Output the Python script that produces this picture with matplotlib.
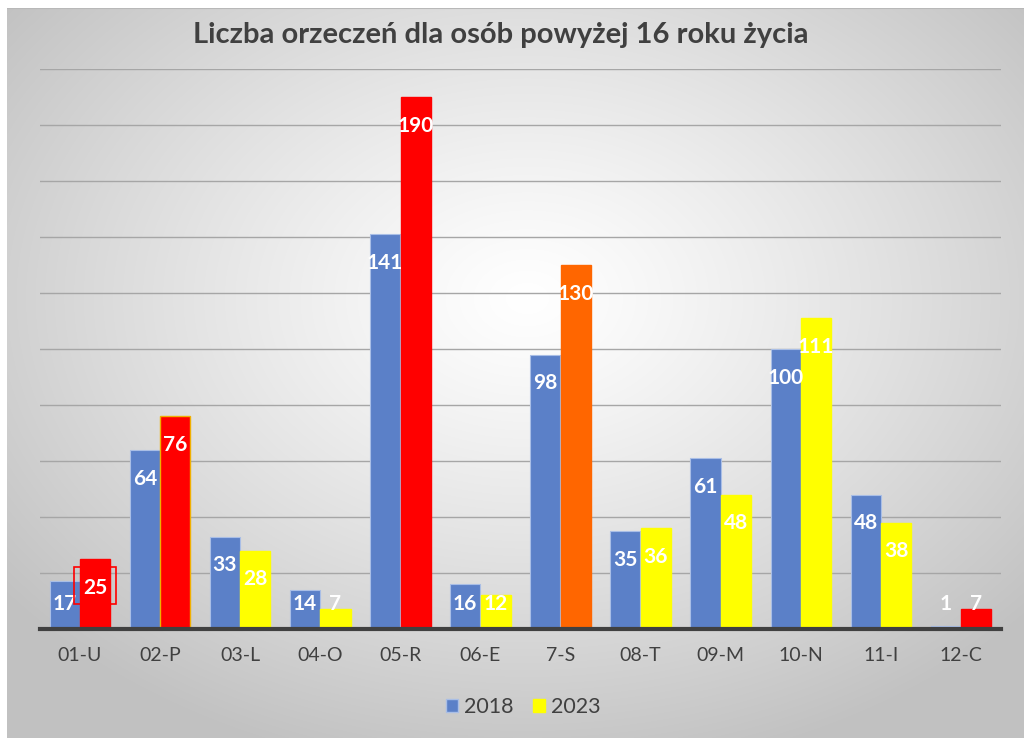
import numpy as np
import matplotlib
matplotlib.use("Agg")
import matplotlib.pyplot as plt
from matplotlib.patches import Rectangle, Patch

categories = ['01-U', '02-P', '03-L', '04-O', '05-R', '06-E', '7-S', '08-T', '09-M', '10-N', '11-I', '12-C']
v2018 = [17, 64, 33, 14, 141, 16, 98, 35, 61, 100, 48, 1]
v2023 = [25, 76, 28, 7, 190, 12, 130, 36, 48, 111, 38, 7]
colors2023 = ['#FF0000', '#FF0000', '#FFFF00', '#FFFF00', '#FF0000', '#FFFF00',
              '#FF6600', '#FFFF00', '#FFFF00', '#FFFF00', '#FFFF00', '#FF0000']
edges2023 = ['#FF0000', '#F0B000', '#FFFF00', '#FFFF00', '#FF0000', '#FFFF00',
             '#FF6600', '#FFFF00', '#FFFF00', '#FFFF00', '#FFFF00', '#FF0000']
blue = '#5B80C8'
yellow = '#FFFF00'
series_names = ['2018', '2023']
title = 'Liczba orzeczeń dla osób powyżej 16 roku życia'

W, H = 1024, 738
fig = plt.figure(figsize=(W / 100, H / 100), dpi=100)
fig.patch.set_facecolor('white')

# background radial gradient
bg = fig.add_axes([7 / W, 0, 1 - 7 / W, (H - 8) / H])
bg.set_axis_off()
yy, xx = np.mgrid[0:730, 0:1017]
cx, cy = 520, 290
r = np.sqrt(((xx - cx) / 660.0) ** 2 + ((yy - cy) / 480.0) ** 2)
r = np.clip(r, 0, 1)
val = 1.0 - (1.0 - 0.76) * r ** 1.2
img = np.dstack([val, val, val])
bg.imshow(img, aspect='auto', extent=[0, 1, 0, 1], origin='upper')
bg.set_xlim(0, 1)
bg.set_ylim(0, 1)
bg.plot([0, 1], [1, 1], color='#B8B8B8', lw=1.5)

left, right, bottom, top = 40, 1001, 629, 69
ax = fig.add_axes([left / W, (H - bottom) / H, (right - left) / W, (bottom - top) / H])
ax.set_facecolor('none')
x = np.arange(len(categories))
bw = 0.375
off = 0.19
ax.bar(x - off, v2018, bw, color=blue, edgecolor='#A9BEE6', linewidth=0.8, zorder=3)
ax.bar(x + off, v2023, bw, color=colors2023, edgecolor=edges2023, linewidth=1.0, zorder=3)

ax.set_ylim(0, 200)
ax.set_xlim(-0.5, len(categories) - 0.5)
ax.set_yticks(np.arange(0, 201, 20))
ax.yaxis.grid(True, color='#A6A6A6', lw=1.0, zorder=0)
ax.tick_params(axis='y', left=False, labelleft=False)
ax.tick_params(axis='x', length=0, pad=13, labelsize=14, labelcolor='#404040')
ax.set_xticks(x)
ax.set_xticklabels(categories, family='Lato')
for s in ['top', 'right', 'left']:
    ax.spines[s].set_visible(False)
ax.spines['bottom'].set_color('#404040')
ax.spines['bottom'].set_linewidth(3)
ax.spines['bottom'].set_zorder(5)

for xi, v in zip(x, v2018):
    ax.text(xi - off, max(v - 10.3, 8.8), str(v), ha='center', va='center', color='white',
            fontsize=15, fontweight='bold', family='Lato', zorder=6)
for xi, v in zip(x, v2023):
    ax.text(xi + off, max(v - 10.3, 8.8), str(v), ha='center', va='center', color='white',
            fontsize=15, fontweight='bold', family='Lato', zorder=6)

# red annotation box around first 2023 label
ax.add_patch(Rectangle((x[0] + off - 0.265, 8.9), 0.53, 13.2, fill=False, edgecolor='#FF0000',
                       lw=1.2, zorder=7))

fig.text(501 / W, 1 - 35 / H, title, ha='center', va='center', fontsize=21, fontweight='bold',
         color='#404040', family='Lato')

handles = [Patch(facecolor=blue, edgecolor='#A9BEE6', label=series_names[0]),
           Patch(facecolor=yellow, edgecolor=yellow, label=series_names[1])]
leg = ax.legend(handles=handles, loc='center', bbox_to_anchor=(0.503, -0.139), ncol=2, frameon=False,
                prop={'family': 'Lato', 'size': 15.5}, handlelength=0.55, handleheight=0.55,
                columnspacing=0.9, handletextpad=0.3)
for t in leg.get_texts():
    t.set_color('#404040')

fig.savefig('out.png', dpi=100)
